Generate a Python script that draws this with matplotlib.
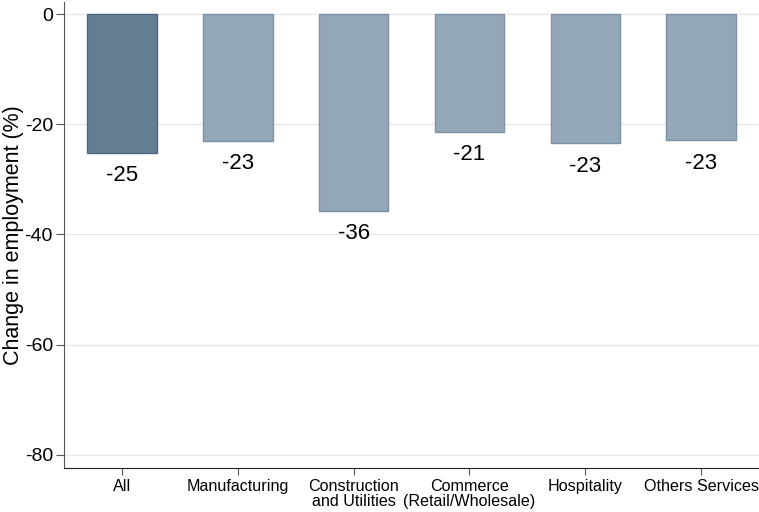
import matplotlib
matplotlib.use("Agg")
import matplotlib.pyplot as plt

categories = ["All", "Manufacturing", "Construction\nand Utilities",
              "Commerce\n(Retail/Wholesale)", "Hospitality", "Others Services"]
values = [-25.2, -23.0, -35.7, -21.4, -23.4, -22.9]
labels = ["-25", "-23", "-36", "-21", "-23", "-23"]
yticks = [0, -20, -40, -60, -80]

plt.rcParams['font.family'] = ['Liberation Sans', 'DejaVu Sans']

fig = plt.figure(figsize=(7.59, 5.12), dpi=100)
ax = fig.add_axes([64/759, 44/512, 1 - 64/759, (468-2)/512])

dark_fill, dark_edge = "#647f94", "#4a6980"
light_fill, light_edge = "#95a8b9", "#7a91a6"
x = list(range(len(categories)))
fills = [dark_fill] + [light_fill] * (len(categories) - 1)
edges = [dark_edge] + [light_edge] * (len(categories) - 1)
bars = ax.bar(x, values, width=0.6, color=fills, edgecolor=edges, linewidth=1, zorder=3)

for xi, v, lab in zip(x, values, labels):
    ax.annotate(lab, (xi, v), xytext=(0, -9), textcoords="offset points",
                ha="center", va="top", fontsize=16, color="black")

ax.set_xlim(-0.5, 5.5)
ax.set_ylim(-82.4, 2.2)
ax.set_yticks(yticks)
ax.set_yticklabels([str(t) for t in yticks], fontsize=14)
ax.set_xticks(x)
ax.set_xticklabels(categories, fontsize=11.6, linespacing=0.95)
ax.yaxis.grid(True, color="#e6e6e6", linewidth=1, zorder=0)
ax.set_axisbelow(True)
for s in ["top", "right"]:
    ax.spines[s].set_visible(False)
ax.spines["left"].set_color("#555555")
ax.spines["bottom"].set_color("#222222")
ax.tick_params(axis="y", length=6, color="#555555", pad=2)
ax.tick_params(axis="x", length=5, color="#555555", pad=3)
ax.set_ylabel("Change in employment (%)", fontsize=15.5)
ax.yaxis.set_label_coords(-0.057, 0.5)

fig.savefig("out.png", dpi=100)
